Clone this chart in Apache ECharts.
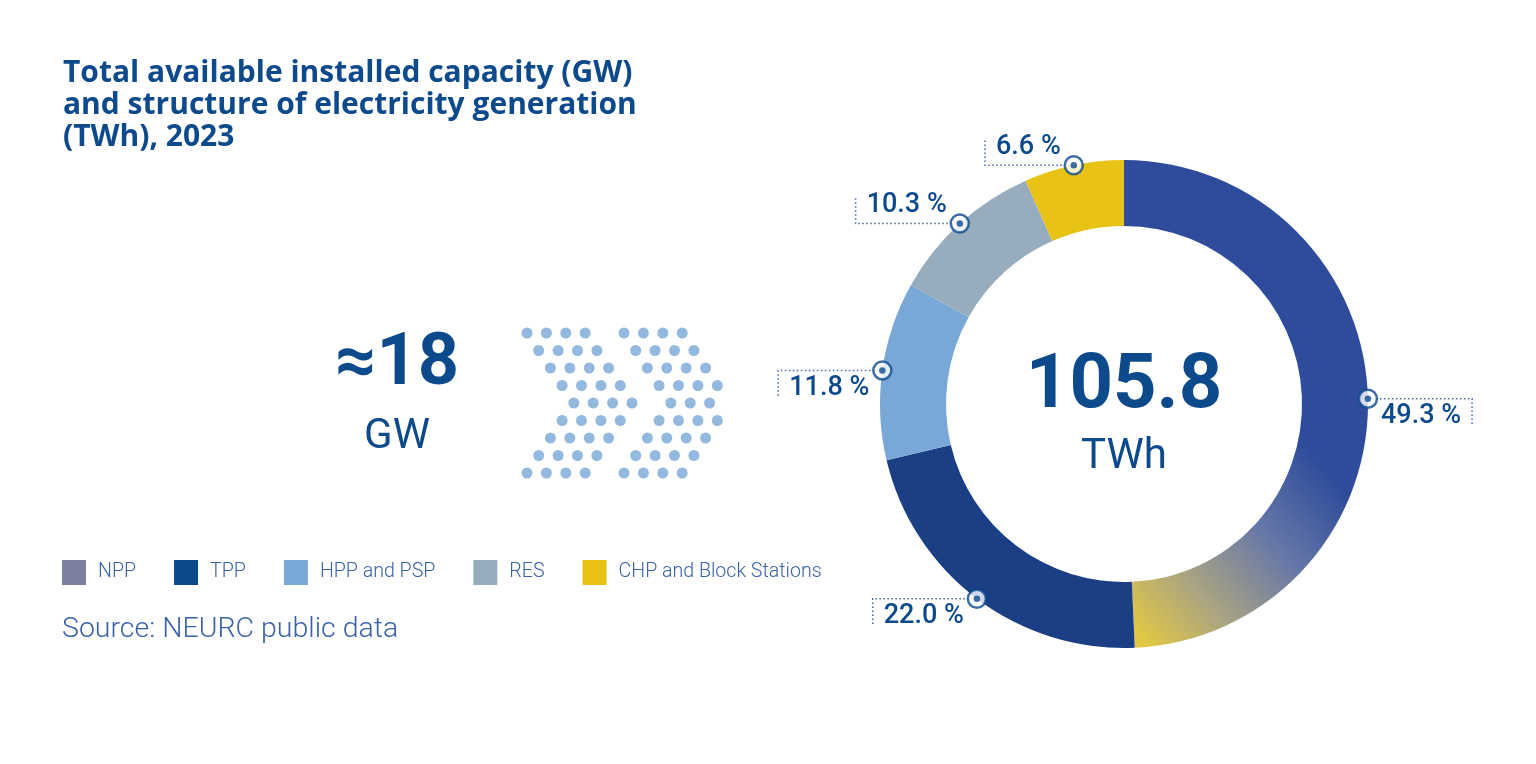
<!DOCTYPE html>
<html><head><meta charset="utf-8">
<script src="https://cdn.jsdelivr.net/npm/echarts@6/dist/echarts.min.js"></script>
<style>html,body{margin:0;padding:0;background:#fff}#c{width:1536px;height:764px}</style>
</head><body><div id="c"></div>
<script>
// ---- data ----
const categories = ['NPP', 'TPP', 'HPP and PSP', 'RES', 'CHP and Block Stations'];
const shares = [49.3, 22.0, 11.8, 10.3, 6.6];
const totalGeneration = '105.8';
const generationUnit = 'TWh';
const capacityValue = '≈18';
const capacityUnit = 'GW';
const titleText = 'Total available installed capacity (GW)\nand structure of electricity generation\n(TWh), 2023';
const sourceText = 'Source: NEURC public data';
// chevron icon pattern (row shifts and column slots)
const dotRowShift = [0, 1, 2, 3, 4, 3, 2, 1, 0];
const dotColumns = [0, 1, 2, 3, 5, 6, 7, 8];

// ---- styles ----
const FONT = 'Roboto, "Open Sans", sans-serif';
const TITLE_FONT = '"Open Sans", Roboto, sans-serif';
const navy = '#0d4a8c';
const lightText = '#3a62a8';
const nppGradient = new echarts.graphic.LinearGradient(0.84, 0.64, 0.06, 0.98, [
  { offset: 0, color: '#2e4c9b' },
  { offset: 0.35, color: '#6677a8' },
  { offset: 0.7, color: '#aaa482' },
  { offset: 1, color: '#e2c842' }
]);
const sliceColors = [nppGradient, '#1b3f85', '#79a8d7', '#97adbd', '#e8c215'];
const legendColors = ['#7b80a0', '#0d4a8c', '#79a8d7', '#97adbd', '#e8c215'];
const labelSide = [1, -1, -1, -1, -1];   // horizontal direction of callout
const labelVert = [1, 1, 1, -1, -1];     // vertical direction of callout
const CENTER = [1124, 404];
const R_IN = 178, R_OUT = 244;
const DOT_STEP = 19.4, DOT_SHIFT = 11.7;

const total = shares.reduce((a, b) => a + b, 0);
const mids = [];
let cum = 0;
shares.forEach(v => { mids.push(cum + v / 2); cum += v; });

const dotData = [];
dotRowShift.forEach((s, r) => dotColumns.forEach(c => dotData.push([s * DOT_SHIFT + c * DOT_STEP, r])));

const chart = echarts.init(document.getElementById('c'), null, { renderer: 'canvas' });
chart.setOption({
  animation: false,
  backgroundColor: '#fff',
  title: {
    text: titleText, left: 58, top: 52,
    textStyle: { fontFamily: TITLE_FONT, fontSize: 30, fontWeight: 'bold', color: navy, lineHeight: 32 }
  },
  legend: {
    left: 62, top: 560, padding: 0, itemWidth: 24, itemHeight: 25, itemGap: 38, icon: 'rect',
    selectedMode: false,
    textStyle: { fontFamily: FONT, fontSize: 19.6, fontWeight: 300, color: lightText, padding: [0, 0, 0, 7] },
    data: categories.map((n, i) => ({ name: n, itemStyle: { color: legendColors[i] } }))
  },
  grid: { left: 527, top: 333, width: 201, height: 140 },
  xAxis: { type: 'value', min: 0, max: 201, show: false },
  yAxis: { type: 'value', min: 0, max: 8, inverse: true, show: false },
  polar: { center: CENTER, radius: R_OUT },
  angleAxis: { type: 'value', min: 0, max: total, startAngle: 90, clockwise: true, show: false },
  radiusAxis: { type: 'value', min: 0, max: 1, show: false },
  graphic: [
    { type: 'text', x: 397, y: 366, style: { text: capacityValue, fill: navy, fontFamily: FONT, fontSize: 72, fontWeight: 'bold', textAlign: 'center', textVerticalAlign: 'middle' } },
    { type: 'text', x: 397, y: 437, style: { text: capacityUnit, fill: navy, fontFamily: FONT, fontSize: 42, fontWeight: 'normal', textAlign: 'center', textVerticalAlign: 'middle' } },
    { type: 'text', x: CENTER[0], y: 388, style: { text: totalGeneration, fill: navy, fontFamily: FONT, fontSize: 76, fontWeight: 'bold', textAlign: 'center', textVerticalAlign: 'middle' } },
    { type: 'text', x: CENTER[0], y: 457, style: { text: generationUnit, fill: navy, fontFamily: FONT, fontSize: 42, fontWeight: 'normal', textAlign: 'center', textVerticalAlign: 'middle' } },
    { type: 'text', x: 62, y: 630, style: { text: sourceText, fill: lightText, fontFamily: FONT, fontSize: 28.5, fontWeight: 300, textAlign: 'left', textVerticalAlign: 'middle' } }
  ],
  series: [
    {
      type: 'pie', center: CENTER, radius: [R_IN, R_OUT], startAngle: 90, clockwise: true,
      avoidLabelOverlap: false, silent: true,
      itemStyle: { borderWidth: 0 },
      label: {
        show: true, position: 'outside', color: navy, fontFamily: FONT, fontSize: 27, fontWeight: 500,
        formatter: p => p.value.toFixed(1) + ' %'
      },
      labelLine: { show: true, length: 0, length2: 10, lineStyle: { color: '#4a68a8', width: 1.5, type: [1.5, 2.5] } },
      labelLayout: function (p) {
        const i = p.dataIndex;
        const pts = p.labelLinePoints;
        if (!pts) return {};
        const a = pts[0];
        const w = p.labelRect.width;
        const dir = labelSide[i], v = labelVert[i];
        const L = w + 24;
        const ex = a[0] + dir * L;
        const ey = a[1] + v * 27;
        return {
          x: (a[0] + ex) / 2 + dir * 1, y: a[1] + v * 18,
          align: 'center', verticalAlign: 'middle',
          labelLinePoints: [[a[0], a[1]], [ex, a[1]], [ex, ey]]
        };
      },
      data: categories.map((n, i) => ({ name: n, value: shares[i], itemStyle: { color: sliceColors[i] } }))
    },
    {
      type: 'scatter', coordinateSystem: 'polar', z: 10, silent: true,
      symbol: 'circle', symbolSize: 18,
      itemStyle: { color: '#fff', borderColor: navy, borderWidth: 2.5 },
      data: mids.map(m => [1, m])
    },
    {
      type: 'scatter', coordinateSystem: 'polar', z: 11, silent: true,
      symbol: 'circle', symbolSize: 6.5,
      itemStyle: { color: navy },
      data: mids.map(m => [1, m])
    },
    {
      type: 'scatter', xAxisIndex: 0, yAxisIndex: 0, silent: true,
      symbol: 'circle', symbolSize: 11,
      itemStyle: { color: '#79a8d7' },
      data: dotData
    }
  ]
});
</script></body></html>
